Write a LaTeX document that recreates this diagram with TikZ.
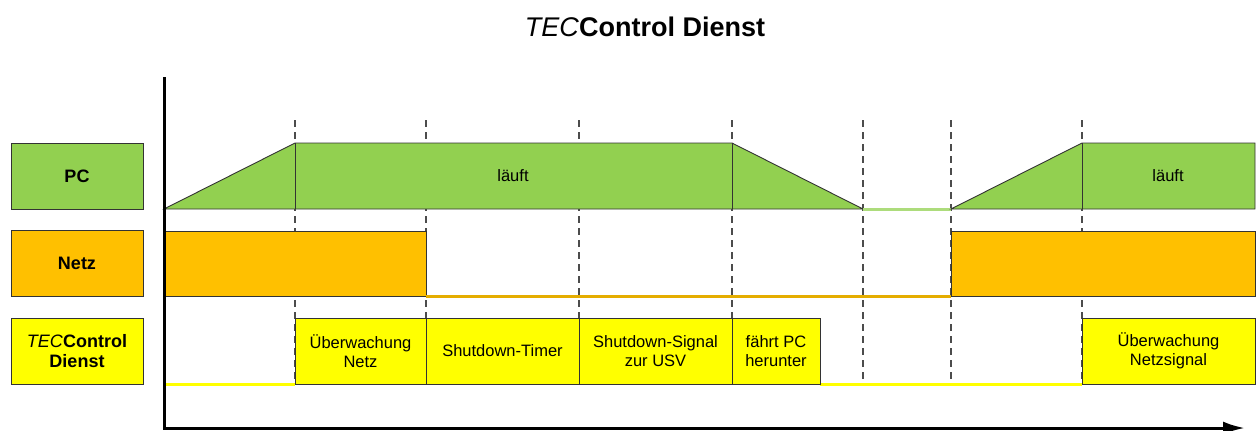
\documentclass[tikz,border=0pt]{standalone}
\usepackage{fontspec}
\setmainfont{Liberation Sans}
\usetikzlibrary{arrows.meta}

\definecolor{pcgreen}{HTML}{92D050}
\definecolor{netzorange}{HTML}{FFC000}
\definecolor{tecyellow}{HTML}{FFFF00}
\definecolor{edge}{HTML}{333333}

\tikzset{
	rowlabel/.style={draw=edge, line width=0.9pt, minimum width=132pt, minimum height=66pt,
		inner sep=0pt, align=center, font=\fontsize{18}{20}\selectfont\bfseries},
	phase/.style={draw=edge, fill=tecyellow, line width=0.9pt, minimum height=66pt,
		inner sep=0pt, align=center, font=\fontsize{16.5}{19}\selectfont},
	timeline/.style={black!70, line width=1.2pt, dash pattern=on 7pt off 5pt},
	shape line/.style={draw=edge, line width=0.9pt},
	idle/.style={line width=3pt}
}

\begin{document}
\begin{tikzpicture}[x=1pt, y=-1pt]
	\useasboundingbox (0,0) rectangle (1256,431);

	% Title
	\node (title) at (645,27) {\fontsize{27}{30}\selectfont\textit{TEC}\textbf{Control Dienst}};

	% Row labels
	\node[rowlabel, fill=pcgreen] (pc) at (77,176) {PC};
	\node[rowlabel, fill=netzorange] (netz) at (77,263.5) {Netz};
	\node[rowlabel, fill=tecyellow] (dienst) at (77,351) {\textit{\mdseries TEC}Control\\Dienst};

	% Draw the dashed time lines
	\foreach \x in {295,426,579,732,863,951,1082}
		\draw[timeline] (\x,120) -- (\x,384);

	% PC row
	\draw[shape line, fill=pcgreen] (164,209) -- (295,143) -- (732,143) -- (863,209) -- cycle;
	\draw[shape line] (295,143) -- (295,209);
	\draw[shape line] (732,143) -- (732,209);
	\draw[idle, pcgreen!75!white] (863,209) -- (951,209);
	\draw[shape line, fill=pcgreen] (951,209) -- (1082,143) -- (1255,143) -- (1255,209) -- cycle;
	\draw[shape line] (1082,143) -- (1082,209);
	\node (run1) at (513,176) {\fontsize{16.5}{19}\selectfont läuft};
	\node (run2) at (1168,176) {\fontsize{16.5}{19}\selectfont läuft};

	% Netz row
	\draw[shape line, fill=netzorange] (164,231) rectangle (426,296);
	\draw[idle, netzorange!90!black] (426,296) -- (951,296);
	\draw[shape line, fill=netzorange] (951,231) rectangle (1255,296);

	% TECControl Dienst row
	\draw[idle, tecyellow] (164,384) -- (295,384);
	\draw[idle, tecyellow] (820,384) -- (1082,384);
	\node[phase, minimum width=131pt] (watch) at (360.5,351) {Überwachung\\Netz};
	\node[phase, minimum width=153pt] (timer) at (502.5,351) {Shutdown-Timer};
	\node[phase, minimum width=153pt] (signal) at (655.5,351) {Shutdown-Signal\\zur USV};
	\node[phase, minimum width=88pt] (halt) at (776,351) {fährt PC\\herunter};
	\node[phase, minimum width=173pt] (watch2) at (1168.5,351) {Überwachung\\Netzsignal};

	% Axes
	\draw[line width=3pt, -{Latex[length=22pt, width=13pt]}] (164,77) |- (1245,428);
\end{tikzpicture}
\end{document}
